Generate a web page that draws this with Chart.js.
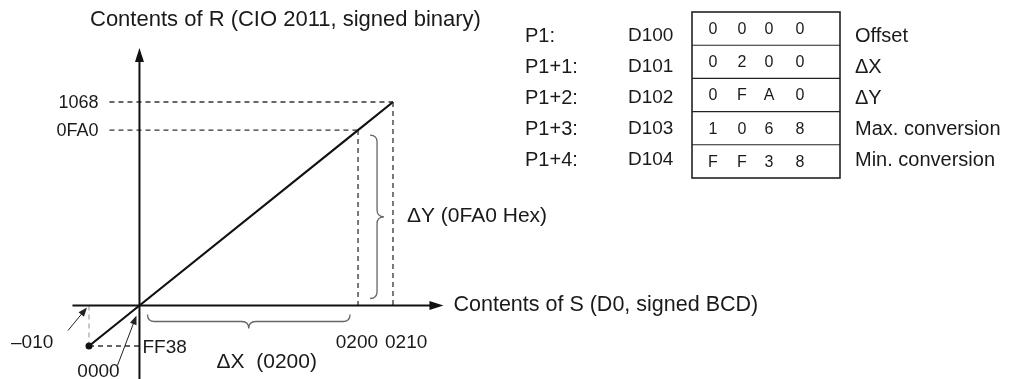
<!DOCTYPE html>
<html>
<head>
<meta charset="utf-8">
<script src="https://cdn.jsdelivr.net/npm/chart.js@4.4.0/dist/chart.umd.min.js"></script>
<style>
  html, body { margin: 0; padding: 0; background: #fff; }
  #wrap { position: relative; width: 1030px; height: 379px; }
</style>
</head>
<body>
<div id="wrap"><canvas id="chart" width="1030" height="379"></canvas></div>
<script>
// Conversion line: S (signed BCD) -> R (signed binary)
const sValues = [-10, 0, 200, 210];
const rValues = [-200, 0, 4000, 4200];          // FF38, 0000, 0FA0, 1068 hex
const sTickLabels = ['\u2013010', '0000', '0200', '0210'];
const rTickLabels = ['FF38', '0000', '0FA0', '1068'];

// Parameter words
const paramNames = ['P1:', 'P1+1:', 'P1+2:', 'P1+3:', 'P1+4:'];
const paramWords = ['D100', 'D101', 'D102', 'D103', 'D104'];
const paramDigits = ['0000', '0200', '0FA0', '1068', 'FF38'];
const paramMeaning = ['Offset', '\u0394X', '\u0394Y', 'Max. conversion', 'Min. conversion'];

// the drawing is schematic, so the axes are broken: value -> fraction of the plot
const scaleBreaks = {
    x: { values: sValues, fractions: [0, 0.166, 0.885, 1] },
    y: { values: rValues, fractions: [0, 0.166, 0.885, 1] }
};

class BrokenScale extends Chart.LinearScale {
    static id = 'broken';
    getPixelForValue(value) {
        const b = scaleBreaks[this.id];
        let i = 1;
        while (i < b.values.length - 1 && value > b.values[i]) i++;
        const t = (value - b.values[i - 1]) / (b.values[i] - b.values[i - 1]);
        return this.getPixelForDecimal(b.fractions[i - 1] + t * (b.fractions[i] - b.fractions[i - 1]));
    }
}
Chart.register(BrokenScale);

const FONT = '"Liberation Sans", Arial, Helvetica, sans-serif';

function text(ctx, str, x, y, size, align) {
    ctx.font = size + 'px ' + FONT;
    ctx.textAlign = align || 'left';
    ctx.textBaseline = 'middle';
    ctx.fillStyle = '#1a1a1a';
    ctx.fillText(str, x, y);
}

function line(ctx, x1, y1, x2, y2) {
    ctx.beginPath();
    ctx.moveTo(x1, y1);
    ctx.lineTo(x2, y2);
    ctx.stroke();
}

function arrow(ctx, x1, y1, x2, y2, len, half) {
    const a = Math.atan2(y2 - y1, x2 - x1);
    line(ctx, x1, y1, x2 - Math.cos(a) * len * 0.6, y2 - Math.sin(a) * len * 0.6);
    ctx.beginPath();
    ctx.moveTo(x2, y2);
    ctx.lineTo(x2 - Math.cos(a) * len - Math.sin(a) * half, y2 - Math.sin(a) * len + Math.cos(a) * half);
    ctx.lineTo(x2 - Math.cos(a) * len + Math.sin(a) * half, y2 - Math.sin(a) * len - Math.cos(a) * half);
    ctx.closePath();
    ctx.fill();
}

// "}" brace
function braceV(ctx, x0, yTop, yBot, w) {
    const yMid = (yTop + yBot) / 2, s = x0 + w / 2;
    ctx.beginPath();
    ctx.moveTo(x0, yTop);
    ctx.quadraticCurveTo(s, yTop, s, yTop + w / 2);
    ctx.lineTo(s, yMid - w / 2);
    ctx.quadraticCurveTo(s, yMid, x0 + w, yMid);
    ctx.quadraticCurveTo(s, yMid, s, yMid + w / 2);
    ctx.lineTo(s, yBot - w / 2);
    ctx.quadraticCurveTo(s, yBot, x0, yBot);
    ctx.stroke();
}

// under-brace
function braceH(ctx, xL, xR, y0, w) {
    const xMid = (xL + xR) / 2, s = y0 + w / 2;
    ctx.beginPath();
    ctx.moveTo(xL, y0);
    ctx.quadraticCurveTo(xL, s, xL + w / 2, s);
    ctx.lineTo(xMid - w / 2, s);
    ctx.quadraticCurveTo(xMid, s, xMid, y0 + w);
    ctx.quadraticCurveTo(xMid, s, xMid + w / 2, s);
    ctx.lineTo(xR - w / 2, s);
    ctx.quadraticCurveTo(xR, s, xR, y0);
    ctx.stroke();
}

const diagram = {
    id: 'diagram',
    beforeDatasetsDraw(chart) {
        const ctx = chart.ctx;
        const xs = chart.scales.x, ys = chart.scales.y;
        const X = v => xs.getPixelForValue(v), Y = v => ys.getPixelForValue(v);
        const x0 = X(0), y0 = Y(0);
        ctx.save();

        // dashed guides
        ctx.setLineDash([5, 4]);
        ctx.lineWidth = 1.3;
        ctx.strokeStyle = '#333';
        line(ctx, x0 - 30, Y(rValues[3]), X(sValues[3]), Y(rValues[3]));
        line(ctx, x0 - 30, Y(rValues[2]), X(sValues[2]), Y(rValues[2]));
        line(ctx, X(sValues[2]), Y(rValues[2]), X(sValues[2]), y0);
        line(ctx, X(sValues[3]), Y(rValues[3]), X(sValues[3]), y0);
        line(ctx, X(sValues[0]), Y(rValues[0]), x0, Y(rValues[0]));
        ctx.strokeStyle = '#aaa';
        line(ctx, X(sValues[0]), y0, X(sValues[0]), Y(rValues[0]));
        ctx.setLineDash([]);

        // axes
        ctx.strokeStyle = '#111';
        ctx.fillStyle = '#111';
        ctx.lineWidth = 2;
        arrow(ctx, x0, chart.height, x0, 48, 14, 4.5);
        arrow(ctx, x0 - 67, y0, x0 + 304, y0, 14, 4.5);

        // braces
        ctx.strokeStyle = '#666';
        ctx.lineWidth = 1.3;
        braceV(ctx, X(sValues[2]) + 12, Y(rValues[2]) + 5, y0 - 7, 14);
        braceH(ctx, x0 + 8, X(sValues[2]) - 8, y0 + 9, 14);

        // small pointer arrows
        ctx.strokeStyle = '#222';
        ctx.fillStyle = '#222';
        ctx.lineWidth = 1;
        arrow(ctx, X(sValues[0]) - 21, y0 + 25, X(sValues[0]) - 2, y0 + 2, 9, 3.5);
        arrow(ctx, x0 - 22, y0 + 60, x0 - 3, y0 + 10, 9, 3.5);

        // tick labels
        text(ctx, rTickLabels[3], x0 - 41, Y(rValues[3]) + 1, 18, 'right');
        text(ctx, rTickLabels[2], x0 - 41, Y(rValues[2]) + 1, 18, 'right');
        text(ctx, rTickLabels[0], x0 + 3, Y(rValues[0]) + 2, 19, 'left');
        text(ctx, rTickLabels[1], x0 - 41, 372, 19, 'center');
        text(ctx, sTickLabels[0], 11, 343, 19, 'left');
        text(ctx, sTickLabels[2], X(sValues[2]) + 20, 343, 19, 'right');
        text(ctx, sTickLabels[3], X(sValues[3]) - 8, 343, 19, 'left');

        // annotations
        text(ctx, '\u0394X  (0200)', (x0 + X(sValues[2])) / 2 + 18, 362, 21, 'center');
        text(ctx, '\u0394Y (0FA0 Hex)', X(sValues[3]) + 14, 216, 21, 'left');
        text(ctx, 'Contents of S (D0, signed BCD)', x0 + 314, y0, 21.5, 'left');
        text(ctx, 'Contents of R (CIO 2011, signed binary)', 90, 20, 22, 'left');

        // parameter table
        const top = 12, rowH = 33.2, left = 692, right = 840;
        const labelY = [36, 67, 98, 129, 160];
        ctx.strokeStyle = '#222';
        ctx.lineWidth = 1.6;
        ctx.strokeRect(left, top, right - left, rowH * paramNames.length);
        ctx.lineWidth = 1.1;
        for (let i = 1; i < paramNames.length; i++) line(ctx, left, top + rowH * i, right, top + rowH * i);
        const digitX = [713, 742, 769, 800];
        paramNames.forEach((name, i) => {
            text(ctx, name, 525, labelY[i], 20, 'left');
            text(ctx, paramWords[i], 628, labelY[i], 19, 'left');
            text(ctx, paramMeaning[i], 855, labelY[i], 20, 'left');
            paramDigits[i].split('').forEach((d, j) => {
                text(ctx, d, digitX[j], top + rowH * i + rowH / 2 + 1, 16, 'center');
            });
        });
        ctx.restore();
    }
};

new Chart(document.getElementById('chart'), {
    type: 'line',
    data: {
        datasets: [{
            data: sValues.map((s, i) => ({ x: s, y: rValues[i] })),
            borderColor: '#111',
            borderWidth: 2.2,
            pointRadius: [3.5, 0, 0, 0],
            pointBackgroundColor: '#111',
            pointBorderWidth: 0,
            tension: 0,
            clip: false
        }]
    },
    options: {
        responsive: false,
        animation: false,
        events: [],
        layout: { padding: { left: 89, right: 637, top: 102, bottom: 33 } },
        plugins: { legend: { display: false }, tooltip: { enabled: false } },
        scales: {
            x: { type: 'broken', min: -10, max: 210, display: false },
            y: { type: 'broken', min: -200, max: 4200, display: false }
        }
    },
    plugins: [diagram]
});
</script>
</body>
</html>
